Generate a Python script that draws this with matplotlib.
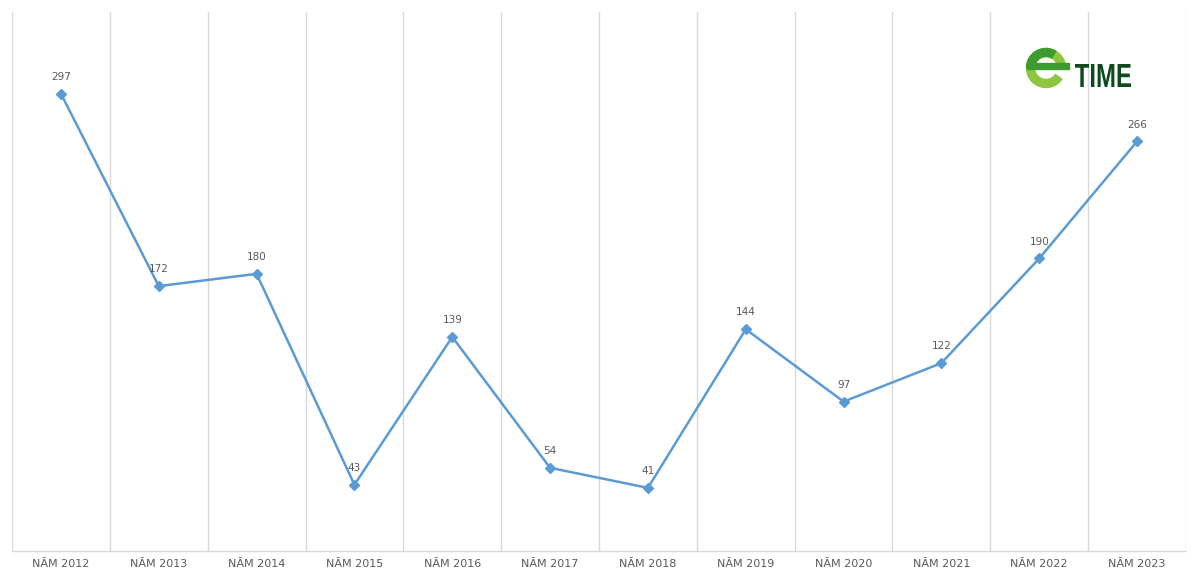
import matplotlib.pyplot as plt
import numpy as np
from matplotlib.patches import Wedge, Rectangle, PathPatch
from matplotlib.textpath import TextPath
from matplotlib.font_manager import FontProperties
from matplotlib.transforms import Affine2D

# ===== data =====
years = ['NĂM 2012', 'NĂM 2013', 'NĂM 2014', 'NĂM 2015', 'NĂM 2016', 'NĂM 2017',
         'NĂM 2018', 'NĂM 2019', 'NĂM 2020', 'NĂM 2021', 'NĂM 2022', 'NĂM 2023']
values = [297, 172, 180, 43, 139, 54, 41, 144, 97, 122, 190, 266]

W, H = 1199, 579
fig = plt.figure(figsize=(W / 100, H / 100), dpi=100)
fig.patch.set_facecolor('white')
ax = fig.add_axes([12 / W, (H - 551) / H, 1174 / W, 539 / H])

x = np.arange(len(years))
ax.plot(x, values, color='#5B9BD5', lw=1.8, marker='D', ms=5.5, zorder=3)
for xi, v in zip(x, values):
    ax.annotate(str(v), (xi, v), xytext=(0, 8.5), textcoords='offset points',
                ha='center', va='bottom', fontsize=7.5, color='#595959')

ax.set_xlim(-0.5, len(years) - 0.5)
ax.set_ylim(0, 350)
ax.set_yticks([])
ax.set_xticks(x)
ax.set_xticklabels(years, fontsize=8, color='#595959')
ax.tick_params(axis='x', length=0, pad=6)

# vertical separators between categories
for b in np.arange(-0.5, len(years), 1.0):
    ax.axvline(b, color='#D9D9D9', lw=1, zorder=1)

for s in ['top', 'left', 'right']:
    ax.spines[s].set_visible(False)
ax.spines['bottom'].set_color('#D9D9D9')
ax.spines['bottom'].set_linewidth(1)

# ===== logo (pixel-coordinate overlay) =====
lg = fig.add_axes([0, 0, 1, 1], zorder=5)
lg.set_xlim(0, W)
lg.set_ylim(0, H)
lg.axis('off')
lg.patch.set_alpha(0)
cx, cy, r = 1046, H - 68, 19.5
lg.add_patch(Wedge((cx, cy), r, 0, 325, width=8, color='#8DC63F'))
lg.add_patch(Wedge((cx, cy), r, 60, 180, width=8, color='#3E9B2F'))
lg.add_patch(Rectangle((cx - r, cy - 1), 2 * r + 3, 6, color='#3E9B2F'))
tp = TextPath((0, 0), 'TIME', size=1, prop=FontProperties(family='Liberation Sans', weight='bold'))
ext = tp.get_extents()
sx = 56 / ext.width
sy = 23 / ext.height
tr = Affine2D().translate(-ext.x0, -ext.y0).scale(sx, sy).translate(1075, H - 87)
lg.add_patch(PathPatch(tr.transform_path(tp), color='#0E4A1C', lw=0))

fig.savefig('out.png', dpi=100, facecolor='white')
